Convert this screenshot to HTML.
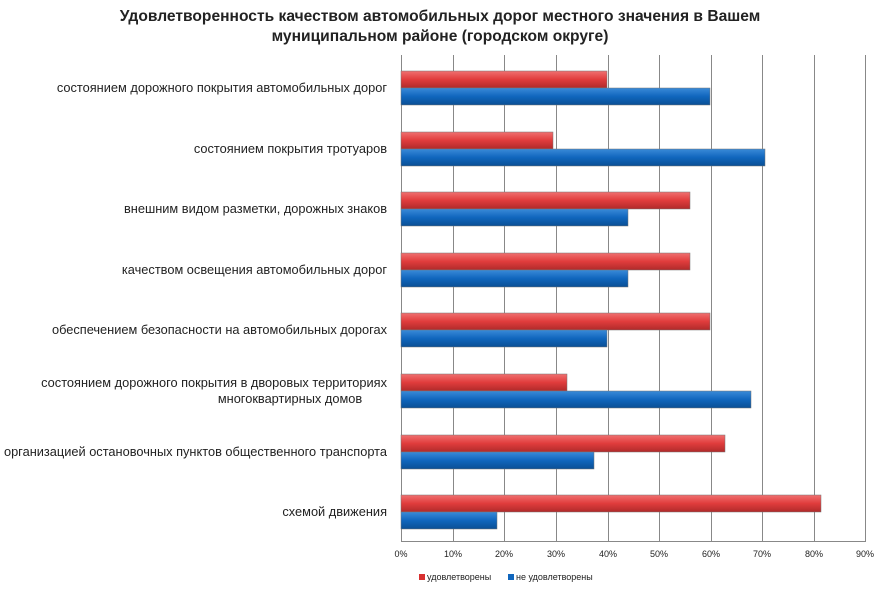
<!DOCTYPE html><html><head><meta charset="utf-8"><style>
body{margin:0;background:#fff;font-family:"Liberation Sans",sans-serif}
</style></head><body>
<svg width="882" height="586" xmlns="http://www.w3.org/2000/svg" font-family="Liberation Sans, sans-serif">
<defs>
<linearGradient id="r" x1="0" y1="0" x2="0" y2="1"><stop offset="0" stop-color="#f07070"/><stop offset="0.5" stop-color="#e03c3c"/><stop offset="1" stop-color="#b02a2a"/></linearGradient>
<linearGradient id="b" x1="0" y1="0" x2="0" y2="1"><stop offset="0" stop-color="#3a8ad8"/><stop offset="0.5" stop-color="#1066bd"/><stop offset="1" stop-color="#0a4f95"/></linearGradient>
</defs>
<text x="440" y="21" text-anchor="middle" font-size="15.6" font-weight="bold" fill="#222">Удовлетворенность качеством автомобильных дорог местного значения в Вашем</text>
<text x="440" y="41" text-anchor="middle" font-size="15.6" font-weight="bold" fill="#222">муниципальном районе (городском округе)</text>
<g stroke="#888" stroke-width="1">
<line x1="401.5" y1="55" x2="401.5" y2="541"/><line x1="453.5" y1="55" x2="453.5" y2="541"/><line x1="504.5" y1="55" x2="504.5" y2="541"/><line x1="556.5" y1="55" x2="556.5" y2="541"/><line x1="608.5" y1="55" x2="608.5" y2="541"/><line x1="659.5" y1="55" x2="659.5" y2="541"/><line x1="711.5" y1="55" x2="711.5" y2="541"/><line x1="762.5" y1="55" x2="762.5" y2="541"/><line x1="814.5" y1="55" x2="814.5" y2="541"/><line x1="865.5" y1="55" x2="865.5" y2="541"/>
<line x1="401" y1="541.5" x2="866" y2="541.5"/>
</g>
<g font-size="9" fill="#222" text-anchor="middle">
<text x="401" y="557">0%</text><text x="453" y="557">10%</text><text x="504" y="557">20%</text><text x="556" y="557">30%</text><text x="608" y="557">40%</text><text x="659" y="557">50%</text><text x="711" y="557">60%</text><text x="762" y="557">70%</text><text x="814" y="557">80%</text><text x="865" y="557">90%</text>
</g>
<g stroke="#777" stroke-width="0.5">
<rect x="401" y="71" width="206" height="17" fill="url(#r)"/><rect x="401" y="88" width="309" height="17" fill="url(#b)"/>
<rect x="401" y="132" width="152" height="17" fill="url(#r)"/><rect x="401" y="149" width="364" height="17" fill="url(#b)"/>
<rect x="401" y="192" width="289" height="17" fill="url(#r)"/><rect x="401" y="209" width="227" height="17" fill="url(#b)"/>
<rect x="401" y="253" width="289" height="17" fill="url(#r)"/><rect x="401" y="270" width="227" height="17" fill="url(#b)"/>
<rect x="401" y="313" width="309" height="17" fill="url(#r)"/><rect x="401" y="330" width="206" height="17" fill="url(#b)"/>
<rect x="401" y="374" width="166" height="17" fill="url(#r)"/><rect x="401" y="391" width="350" height="17" fill="url(#b)"/>
<rect x="401" y="435" width="324" height="17" fill="url(#r)"/><rect x="401" y="452" width="193" height="17" fill="url(#b)"/>
<rect x="401" y="495" width="420" height="17" fill="url(#r)"/><rect x="401" y="512" width="96" height="17" fill="url(#b)"/>
</g>
<g font-size="12.8" fill="#222">
<text x="387" y="92" text-anchor="end">состоянием дорожного покрытия автомобильных дорог</text>
<text x="387" y="153" text-anchor="end">состоянием покрытия тротуаров</text>
<text x="387" y="213" text-anchor="end">внешним видом разметки, дорожных знаков</text>
<text x="387" y="274" text-anchor="end">качеством освещения автомобильных дорог</text>
<text x="387" y="334" text-anchor="end">обеспечением безопасности на автомобильных дорогах</text>
<text x="387" y="387" text-anchor="end">состоянием дорожного покрытия в дворовых территориях</text>
<text x="290" y="403" text-anchor="middle">многоквартирных домов</text>
<text x="387" y="456" text-anchor="end">организацией остановочных пунктов общественного транспорта</text>
<text x="387" y="516" text-anchor="end">схемой движения</text>
</g>
<rect x="419" y="574" width="6" height="6" fill="#d83030"/>
<text x="427" y="580" font-size="9" fill="#222">удовлетворены</text>
<rect x="508" y="574" width="6" height="6" fill="#1066bd"/>
<text x="516" y="580" font-size="9" fill="#222">не удовлетворены</text>
</svg>
</body></html>
